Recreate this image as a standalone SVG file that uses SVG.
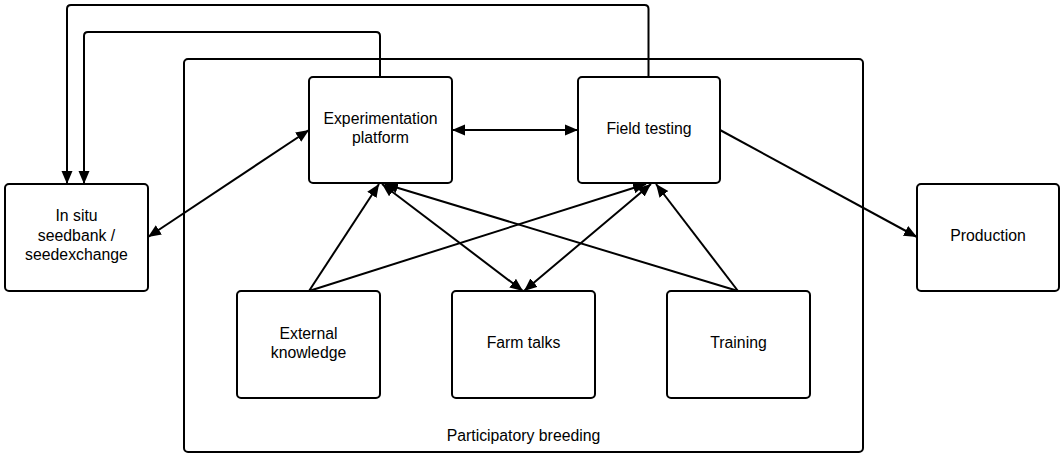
<svg xmlns="http://www.w3.org/2000/svg" width="1060" height="453" viewBox="0 0 1060 453">
<style>
.box{fill:#fff;stroke:#000;stroke-width:2}
.lbl{font-family:"Liberation Sans",Arial,sans-serif;font-size:15.8px;fill:#000;text-anchor:middle}
.c{fill:none;stroke:#000;stroke-width:2}
</style>
<defs>
<marker id="ah" markerUnits="userSpaceOnUse" markerWidth="14" markerHeight="12" refX="13" refY="5.5" orient="auto-start-reverse" viewBox="0 0 14 11">
<path d="M0,0 L13,5.5 L0,11 z" fill="#000"/>
</marker>
</defs>
<rect width="1060" height="453" fill="#fff"/>
<g id="participatory-breeding">
<rect class="box" x="184" y="59" width="679" height="393" rx="4"/>
<text class="lbl" x="523.5" y="441">Participatory breeding</text>
</g>
<g id="connectors">
<path class="c" d="M648.5,77 V9 Q648.5,5 644.5,5 H71 Q67,5 67,9 V184" marker-end="url(#ah)"/>
<path class="c" d="M380,77 V36 Q380,32 376,32 H88 Q84,32 84,36 V184" marker-end="url(#ah)"/>
<path class="c" d="M148,237 L309,130" marker-start="url(#ah)" marker-end="url(#ah)"/>
<path class="c" d="M452,130 L578,130" marker-start="url(#ah)" marker-end="url(#ah)"/>
<path class="c" d="M720,130 L917,237" marker-end="url(#ah)"/>
<path class="c" d="M309,291 L379,184" marker-end="url(#ah)"/>
<path class="c" d="M309,291 L646,184" marker-end="url(#ah)"/>
<path class="c" d="M382,184 L523,291" marker-start="url(#ah)" marker-end="url(#ah)"/>
<path class="c" d="M651,184 L524,291" marker-start="url(#ah)" marker-end="url(#ah)"/>
<path class="c" d="M738,291 L385,184" marker-end="url(#ah)"/>
<path class="c" d="M738,291 L656,184" marker-end="url(#ah)"/>
</g>
<g id="in-situ">
<rect class="box" x="5" y="184" width="143" height="107" rx="4"/>
<text class="lbl" x="76.5" y="221">In situ</text>
<text class="lbl" x="76.5" y="240.5">seedbank /</text>
<text class="lbl" x="76.5" y="260">seedexchange</text>
</g>
<g id="experimentation-platform">
<rect class="box" x="309" y="77" width="143" height="106" rx="4"/>
<text class="lbl" x="380.5" y="124">Experimentation</text>
<text class="lbl" x="380.5" y="143">platform</text>
</g>
<g id="field-testing">
<rect class="box" x="578" y="77" width="142" height="106" rx="4"/>
<text class="lbl" x="649" y="134">Field testing</text>
</g>
<g id="production">
<rect class="box" x="917" y="184" width="142" height="107" rx="4"/>
<text class="lbl" x="988" y="241">Production</text>
</g>
<g id="external-knowledge">
<rect class="box" x="237" y="291" width="143" height="107" rx="4"/>
<text class="lbl" x="308.5" y="338.5">External</text>
<text class="lbl" x="308.5" y="357.5">knowledge</text>
</g>
<g id="farm-talks">
<rect class="box" x="452" y="291" width="143" height="107" rx="4"/>
<text class="lbl" x="523.5" y="348">Farm talks</text>
</g>
<g id="training">
<rect class="box" x="667" y="291" width="143" height="107" rx="4"/>
<text class="lbl" x="738.5" y="348">Training</text>
</g>
</svg>
